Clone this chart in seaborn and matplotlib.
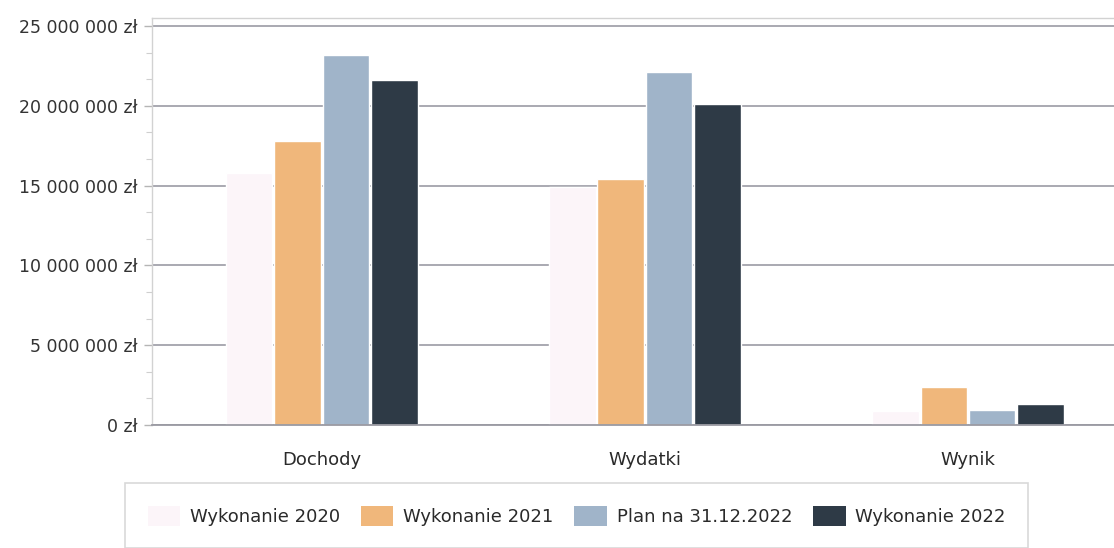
import matplotlib
matplotlib.use("Agg")
import matplotlib.pyplot as plt
from matplotlib.patches import Patch
from matplotlib.ticker import FuncFormatter, MultipleLocator
import pandas as pd
import seaborn as sns

# Budget figures (PLN)
categories = ["Dochody", "Wydatki", "Wynik"]
series = ["Wykonanie 2020", "Wykonanie 2021", "Plan na 31.12.2022", "Wykonanie 2022"]
wykonanie_2020 = [15_800_000, 14_900_000, 900_000]
wykonanie_2021 = [17_800_000, 15_400_000, 2_350_000]
plan_2022 = [23_200_000, 22_100_000, 950_000]
wykonanie_2022 = [21_600_000, 20_100_000, 1_300_000]
colors = ["#fcf5f9", "#f0b77b", "#a0b4c9", "#2e3a46"]

values = [wykonanie_2020, wykonanie_2021, plan_2022, wykonanie_2022]
df = pd.DataFrame(
    [(c, s, v) for s, vals in zip(series, values) for c, v in zip(categories, vals)],
    columns=["kategoria", "seria", "kwota"],
)
palette = dict(zip(series, colors))

sns.set_theme(style="white")
plt.rcParams["font.family"] = ["DejaVu Sans"]

W, H = 1114, 548
fig = plt.figure(figsize=(W / 100, H / 100), dpi=100)
fig.patch.set_facecolor("white")
ax = fig.add_axes([152 / W, 123 / H, 1 - 152 / W, (425 - 18) / H])

sns.barplot(
    data=df, x="kategoria", y="kwota", hue="seria", order=categories,
    hue_order=series, palette=palette, saturation=1, width=0.6, gap=0.04,
    legend=False, ax=ax, zorder=2,
)

ax.set_xlim(-0.526, 2.452)
ax.set_ylim(0, 25_500_000)
ax.yaxis.set_major_locator(MultipleLocator(5_000_000))
ax.yaxis.set_minor_locator(MultipleLocator(5_000_000 / 3))
ax.yaxis.set_major_formatter(
    FuncFormatter(lambda v, _: f"{int(round(v)):,}".replace(",", " ") + " zł")
)
ax.grid(axis="y", which="major", color="#a3a3ab", linewidth=1.3, zorder=0)
ax.set_axisbelow(True)

ax.set_xlabel("")
ax.set_ylabel("")
ax.tick_params(axis="y", which="major", length=6, width=1, color="#b5b5b5",
               pad=4, labelsize=12.5, labelcolor="#333333", left=True)
ax.tick_params(axis="y", which="minor", length=4, width=0.8, color="#cfcfcf", left=True)
ax.tick_params(axis="x", length=0, pad=19, labelsize=13, labelcolor="#2a2a2a")

for side in ["left", "top"]:
    ax.spines[side].set_color("#d2d2d2")
    ax.spines[side].set_linewidth(1.0)
ax.spines["right"].set_visible(False)
ax.spines["bottom"].set_color("#9a9aa2")
ax.spines["bottom"].set_linewidth(1.3)

handles = [Patch(facecolor=palette[s], edgecolor="none", label=s) for s in series]
leg = fig.legend(
    handles=handles, loc="upper left", bbox_to_anchor=(125 / W, 1 - 483 / H),
    ncol=4, fontsize=13, frameon=True, fancybox=False, borderpad=1.25,
    handlelength=1.8, handleheight=1.35, handletextpad=0.55, columnspacing=1.15,
    borderaxespad=0,
)
leg.get_frame().set_edgecolor("#cfcfcf")
leg.get_frame().set_linewidth(1.2)
for t in leg.get_texts():
    t.set_color("#2a2a2a")

fig.savefig("out.png", dpi=100, facecolor="white")
